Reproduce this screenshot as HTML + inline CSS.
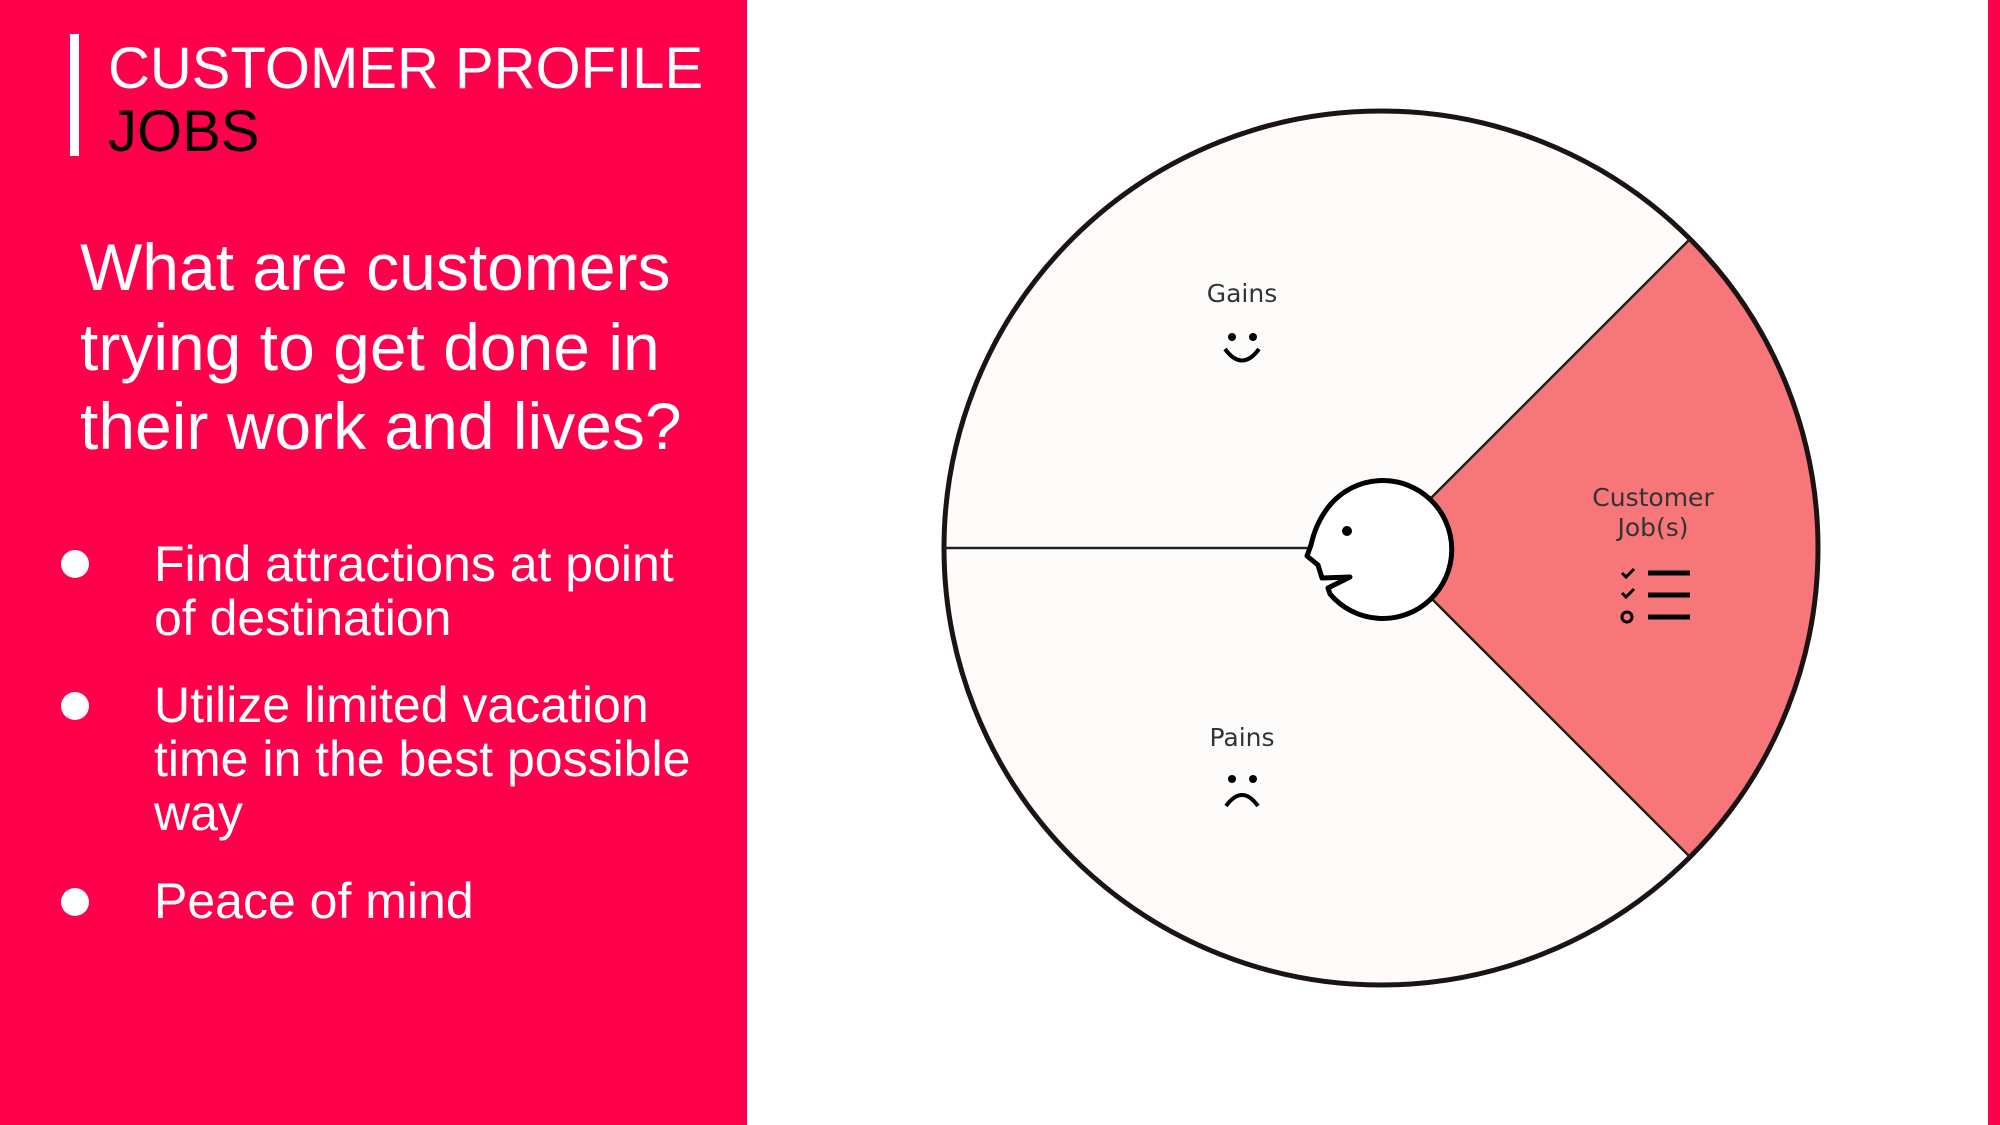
<!DOCTYPE html>
<html><head><meta charset="utf-8"><style>
html,body{margin:0;padding:0;width:2000px;height:1125px;overflow:hidden;background:#fff;font-family:"Liberation Sans",Arial,sans-serif}
</style></head><body>
<svg width="2000" height="1125" viewBox="0 0 2000 1125" xmlns="http://www.w3.org/2000/svg" style="position:absolute;left:0;top:0">
<rect x="0" y="0" width="747" height="1125" fill="#ff004d"/>
<rect x="1988" y="0" width="12" height="1125" fill="#ff004d"/>
<rect x="70" y="34" width="9" height="122" fill="#fff"/>
<g font-family="Liberation Sans, Arial, sans-serif">
<text x="108" y="88" font-size="58" fill="#fff">CUSTOMER PROFILE</text>
<text x="108" y="151" font-size="58" fill="#000">JOBS</text>
<text font-size="66" fill="#fff"><tspan x="80" y="290">What are customers</tspan><tspan x="80" y="370">trying to get done in</tspan><tspan x="80" y="449">their work and lives?</tspan></text>
<g font-size="50" fill="#fff">
<circle cx="75" cy="564" r="14"/>
<text x="154" y="581">Find attractions at point</text>
<text x="154" y="635">of destination</text>
<circle cx="75" cy="706" r="14"/>
<text x="154" y="722">Utilize limited vacation</text>
<text x="154" y="776">time in the best possible</text>
<text x="154" y="830">way</text>
<circle cx="75" cy="902" r="14"/>
<text x="154" y="918">Peace of mind</text>
</g>
</g>
<circle cx="1381" cy="548" r="437" fill="#fdfcfb"/>
<path d="M1381 548 L1690 239 A437 437 0 0 1 1690 857 Z" fill="#f6767a"/>
<circle cx="1381" cy="548" r="437" fill="none" stroke="#1a1414" stroke-width="5"/>
<line x1="1381" y1="548" x2="1690" y2="239" stroke="#222" stroke-width="2.5"/>
<line x1="1381" y1="548" x2="1690" y2="857" stroke="#222" stroke-width="2.5"/>
<line x1="944" y1="548" x2="1320" y2="548" stroke="#222" stroke-width="2.5"/>
<path d="M1330 505 A69 69 0 1 1 1330 594 L1328 588 L1350 577 L1322 578 L1318 565 L1307 556 L1311 545 Q1316 522 1330 505 Z" fill="#fff" stroke="#000" stroke-width="5" stroke-linejoin="round"/>
<circle cx="1347" cy="531" r="5" fill="#000"/>
<g font-family="DejaVu Sans, sans-serif" text-anchor="middle" fill="#333">
<text x="1242" y="302" font-size="25">Gains</text>
<text x="1242" y="746" font-size="25">Pains</text>
<text x="1653" y="506" font-size="25">Customer</text>
<text x="1653" y="536" font-size="25">Job(s)</text>
</g>
<circle cx="1232" cy="337" r="4" fill="#000"/><circle cx="1253" cy="337" r="4" fill="#000"/>
<path d="M1225 349 Q1242 372 1259 349" fill="none" stroke="#000" stroke-width="4"/>
<circle cx="1232" cy="779" r="4" fill="#000"/><circle cx="1253" cy="779" r="4" fill="#000"/>
<path d="M1226 806 Q1242 784 1258 806" fill="none" stroke="#000" stroke-width="4"/>
<g stroke="#000" fill="none">
<path d="M1622 573 l4 4 l8 -8" stroke-width="3"/>
<path d="M1622 593 l4 4 l8 -8" stroke-width="3"/>
<circle cx="1627" cy="617" r="5" stroke-width="3"/>
<line x1="1648" y1="573" x2="1690" y2="573" stroke-width="5"/>
<line x1="1648" y1="595" x2="1690" y2="595" stroke-width="5"/>
<line x1="1648" y1="617" x2="1690" y2="617" stroke-width="5"/>
</g>
</svg>
</body></html>
